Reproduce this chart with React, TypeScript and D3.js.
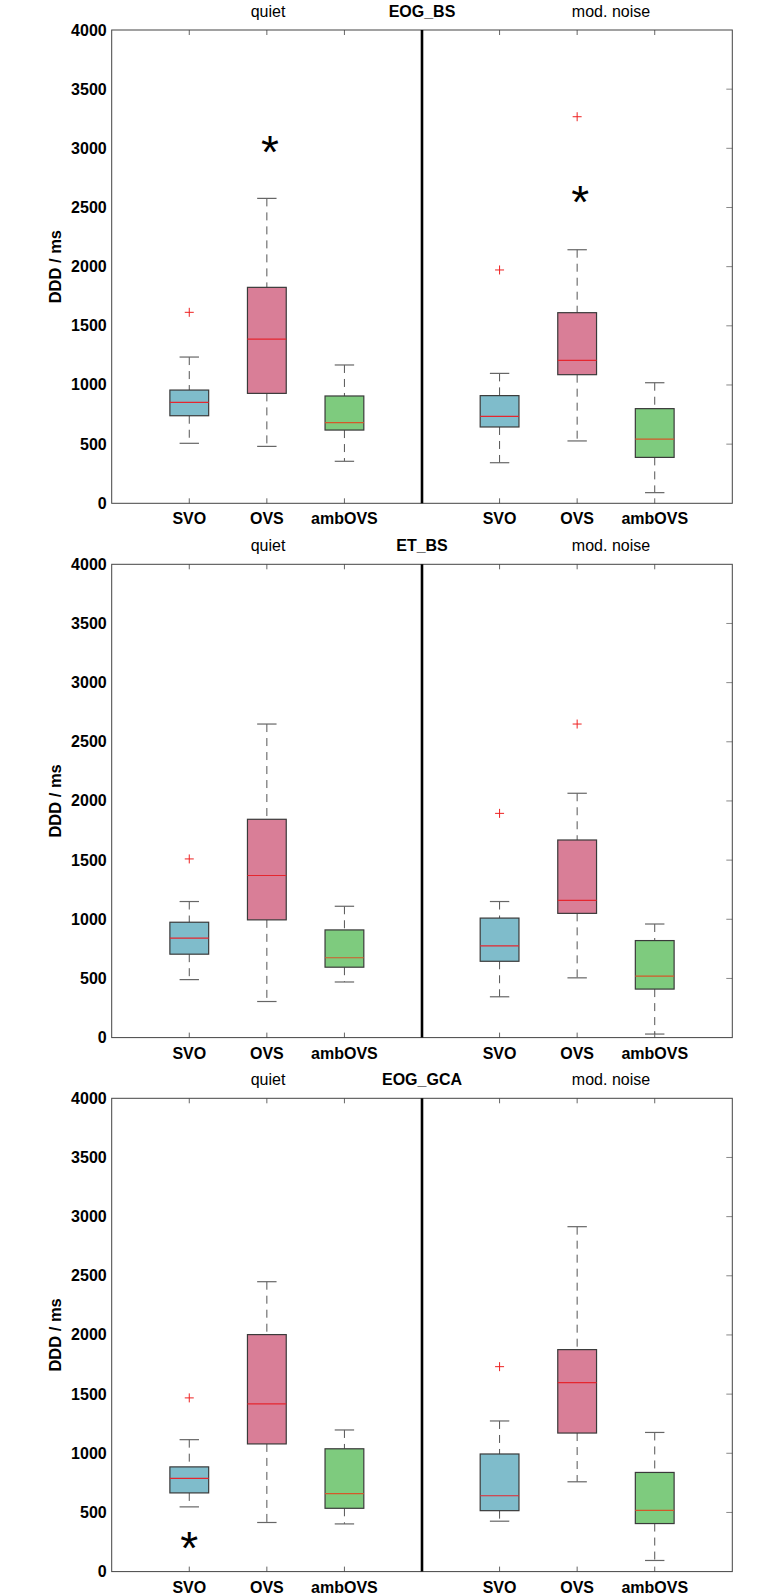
import React from 'react';
import * as d3 from 'd3';

// categories / conditions / titles
const categories = ['SVO', 'OVS', 'ambOVS'];
const conditions = ['quiet', 'mod. noise'];
const panelTitles = ['EOG_BS', 'ET_BS', 'EOG_GCA'];
const yTicks = [0, 500, 1000, 1500, 2000, 2500, 3000, 3500, 4000];
const boxColors = ['#7fbccb', '#d97e97', '#7ecb7e'];

// [whisker low, q1, median, q3, whisker high] per category
const eogBsQuiet = [
  [507, 740, 853, 957, 1236],
  [481, 929, 1388, 1825, 2577],
  [355, 619, 681, 907, 1169],
];
const eogBsNoise = [
  [343, 645, 735, 910, 1098],
  [527, 1087, 1208, 1611, 2143],
  [90, 388, 543, 800, 1019],
];
const etBsQuiet = [
  [490, 705, 840, 975, 1150],
  [305, 995, 1370, 1845, 2650],
  [470, 595, 675, 910, 1110],
];
const etBsNoise = [
  [345, 645, 775, 1010, 1150],
  [505, 1050, 1160, 1670, 2065],
  [30, 410, 520, 820, 960],
];
const eogGcaQuiet = [
  [547, 665, 788, 885, 1115],
  [415, 1079, 1418, 2003, 2450],
  [403, 535, 659, 1038, 1197],
];
const eogGcaNoise = [
  [426, 515, 641, 994, 1273],
  [759, 1171, 1597, 1876, 2915],
  [94, 406, 518, 838, 1176],
];

// outliers: [condition, category, value]
const eogBsOutliers = [[0, 0, 1614], [1, 0, 1972], [1, 1, 3267]];
const etBsOutliers = [[0, 0, 1510], [1, 0, 1895], [1, 1, 2650]];
const eogGcaOutliers = [[0, 0, 1468], [1, 0, 1732]];

// significance stars: [condition, category, value]
const eogBsStars = [[0, 1, 3056], [1, 1, 2634]];
const etBsStars: number[][] = [];
const eogGcaStars = [[0, 0, 285]];

const panels = [
  { title: panelTitles[0], stats: [eogBsQuiet, eogBsNoise], outliers: eogBsOutliers, stars: eogBsStars },
  { title: panelTitles[1], stats: [etBsQuiet, etBsNoise], outliers: etBsOutliers, stars: etBsStars },
  { title: panelTitles[2], stats: [eogGcaQuiet, eogGcaNoise], outliers: eogGcaOutliers, stars: eogGcaStars },
];

const W = 772;
const H = 1596;
const LEFT = 111.7;
const RIGHT = 732.3;
const PLOT_H = 473.3;
const TOPS = [30, 564.3, 1098.3];
const FONT = '"Liberation Sans", Arial, Helvetica, sans-serif';

const pos = (cond: number, cat: number) => cond * 4 + cat + 1;

function Panel({ top, panel }: { top: number; panel: (typeof panels)[number] }) {
  const x = d3.scaleLinear().domain([0, 8]).range([LEFT, RIGHT]);
  const y = d3.scaleLinear().domain([0, 4000]).range([top + PLOT_H, top]);
  const bottom = top + PLOT_H;
  const halfBox = x(0.25) - x(0);
  const halfCap = x(0.125) - x(0);
  const xTicks = [1, 2, 3, 5, 6, 7];

  return (
    <g>
      {/* titles */}
      <text x={268} y={top - 13} textAnchor="middle" fontSize={16} fontFamily={FONT}>
        {conditions[0]}
      </text>
      <text x={x(4)} y={top - 13} textAnchor="middle" fontSize={16} fontWeight="bold" fontFamily={FONT}>
        {panel.title}
      </text>
      <text x={611} y={top - 13} textAnchor="middle" fontSize={16} fontFamily={FONT}>
        {conditions[1]}
      </text>

      {/* y label */}
      <text
        transform={`translate(55,${(top + bottom) / 2}) rotate(-90)`}
        textAnchor="middle"
        dominantBaseline="central"
        fontSize={16.5}
        fontWeight="bold"
        fontFamily={FONT}
      >
        DDD / ms
      </text>

      {/* y tick labels + right ticks */}
      {yTicks.map((t) => (
        <g key={t}>
          <text
            x={LEFT - 5}
            y={y(t)}
            textAnchor="end"
            dominantBaseline="central"
            fontSize={16}
            fontWeight="bold"
            fontFamily={FONT}
          >
            {t}
          </text>
          {t > 0 && t < 4000 && (
            <line x1={RIGHT - 6} x2={RIGHT} y1={y(t)} y2={y(t)} stroke="#888" strokeWidth={1} />
          )}
        </g>
      ))}

      {/* x ticks top & bottom, category labels */}
      {xTicks.map((t, i) => (
        <g key={t}>
          <line x1={x(t)} x2={x(t)} y1={top} y2={top + 5} stroke="#666" strokeWidth={1} />
          <line x1={x(t)} x2={x(t)} y1={bottom} y2={bottom - 5} stroke="#666" strokeWidth={1} />
          <text x={x(t)} y={bottom + 21} textAnchor="middle" fontSize={16} fontWeight="bold" fontFamily={FONT}>
            {categories[i % 3]}
          </text>
        </g>
      ))}

      {/* frame */}
      <rect x={LEFT} y={top} width={RIGHT - LEFT} height={PLOT_H} fill="none" stroke="#444" strokeWidth={1} />
      <line x1={x(4)} x2={x(4)} y1={top} y2={bottom} stroke="#000" strokeWidth={2.6} />

      {/* boxes */}
      {panel.stats.map((condStats, c) =>
        condStats.map(([lo, q1, med, q3, hi], k) => {
          const cx = x(pos(c, k));
          return (
            <g key={`${c}-${k}`}>
              <line x1={cx} x2={cx} y1={y(hi)} y2={y(q3)} stroke="#555" strokeWidth={1} strokeDasharray="8,6" />
              <line x1={cx} x2={cx} y1={y(q1)} y2={y(lo)} stroke="#555" strokeWidth={1} strokeDasharray="8,6" />
              <line x1={cx - halfCap} x2={cx + halfCap} y1={y(hi)} y2={y(hi)} stroke="#666" strokeWidth={1.2} />
              <line x1={cx - halfCap} x2={cx + halfCap} y1={y(lo)} y2={y(lo)} stroke="#666" strokeWidth={1.2} />
              <rect
                x={cx - halfBox}
                y={y(q3)}
                width={halfBox * 2}
                height={y(q1) - y(q3)}
                fill={boxColors[k]}
                stroke="#3a3a3a"
                strokeWidth={1.2}
              />
              <line
                x1={cx - halfBox}
                x2={cx + halfBox}
                y1={y(med)}
                y2={y(med)}
                stroke={k === 2 ? '#d4582a' : '#e5262f'}
                strokeWidth={1.2}
              />
            </g>
          );
        })
      )}

      {/* outliers */}
      {panel.outliers.map(([c, k, v], i) => {
        const cx = x(pos(c, k));
        const cy = y(v);
        return (
          <g key={`o${i}`} stroke="#ee2222" strokeWidth={1}>
            <line x1={cx - 4.5} x2={cx + 4.5} y1={cy} y2={cy} />
            <line x1={cx} x2={cx} y1={cy - 4.5} y2={cy + 4.5} />
          </g>
        );
      })}

      {/* stars */}
      {panel.stars.map(([c, k, v], i) => (
        <text
          key={`s${i}`}
          x={x(pos(c, k)) + (k === 1 ? 3 : 0)}
          y={y(v) + 26}
          textAnchor="middle"
          fontSize={46}
          fontFamily={FONT}
        >
          *
        </text>
      ))}
    </g>
  );
}

export default function App() {
  return (
    <div style={{ position: 'absolute', left: 0, top: 0 }}>
      <svg width={W} height={H} viewBox={`0 0 ${W} ${H}`} style={{ display: 'block', background: '#fff' }}>
        {panels.map((p, i) => (
          <Panel key={p.title} top={TOPS[i]} panel={p} />
        ))}
      </svg>
    </div>
  );
}
